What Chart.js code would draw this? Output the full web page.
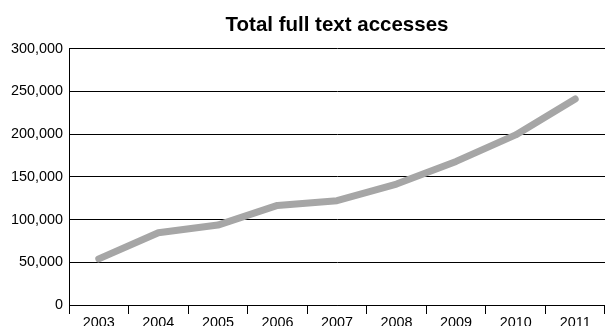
<!DOCTYPE html>
<html lang="en">
<head>
<meta charset="utf-8">
<title>Total full text accesses</title>
<script src="https://cdn.jsdelivr.net/npm/chart.js"></script>
<style>
	html, body { margin: 0; padding: 0; background: #fff; }
	#wrap { width: 605px; height: 326px; }
</style>
</head>
<body>
<div id="wrap"><canvas id="myChart"></canvas></div>
<script>
	const years = ['2003', '2004', '2005', '2006', '2007', '2008', '2009', '2010', '2011'];
	const accesses = [54000, 84500, 93500, 116500, 122000, 141500, 168000, 199000, 241000];
	const yTicks = [0, 50000, 100000, 150000, 200000, 250000, 300000];

	Chart.defaults.font.family = '"Liberation Sans", Arial, sans-serif';
	Chart.defaults.color = '#000';

	const config = {
		type: 'line',
		data: {
			labels: years,
			datasets: [{
				label: 'Total full text accesses',
				data: accesses,
				borderColor: '#a6a6a6',
				borderWidth: 7,
				borderCapStyle: 'round',
				borderJoinStyle: 'round',
				pointRadius: 0,
				tension: 0,
				fill: false
			}]
		},
		options: {
			responsive: true,
			maintainAspectRatio: false,
			animation: false,
			layout: { padding: { left: 0, right: 0, top: 0, bottom: 0 } },
			plugins: {
				legend: { display: false },
				tooltip: { enabled: false },
				title: {
					display: true,
					fullSize: false, // centre over the plot area, not the canvas
					text: 'Total full text accesses',
					font: { size: 20.5, weight: 'bold' },
					color: '#000',
					padding: { top: 13, bottom: 11 }
				}
			},
			scales: {
				x: {
					offset: true,
					grid: {
						offset: true,
						drawOnChartArea: false,
						drawTicks: true,
						tickLength: 9,
						color: '#000'
					},
					border: { color: '#000', width: 1 },
					ticks: { font: { size: 14.4 }, color: '#000', padding: 0, maxRotation: 0 },
					afterFit: function (scale) { scale.height = 21; }
				},
				y: {
					min: 0,
					max: 300000,
					afterBuildTicks: function (scale) {
						scale.ticks = yTicks.map(v => ({ value: v }));
					},
					grid: { color: '#000', drawTicks: false },
					border: { color: '#000', width: 1 },
					ticks: {
						font: { size: 14.4 },
						color: '#000',
						padding: 6,
						callback: v => v.toLocaleString('en-US')
					},
					afterFit: function (scale) { scale.width = 69; }
				}
			}
		}
	};

	const myChart = new Chart(document.getElementById('myChart'), config);
</script>
</body>
</html>
